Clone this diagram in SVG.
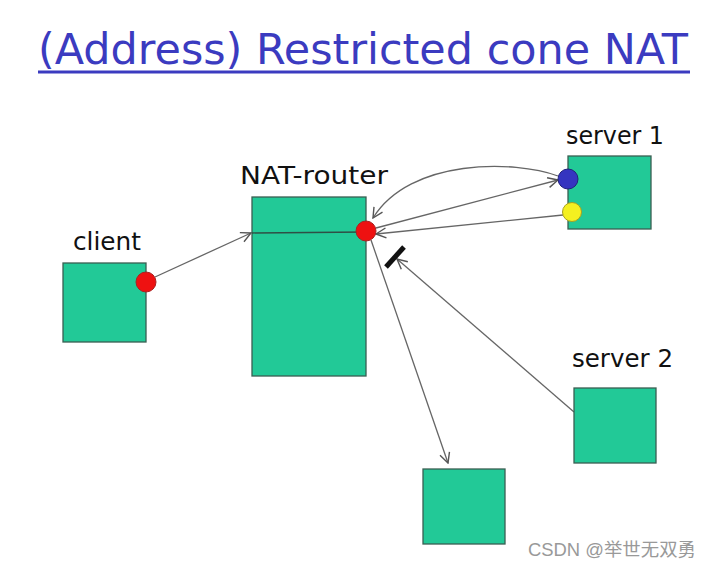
<svg xmlns="http://www.w3.org/2000/svg" width="713" height="567" viewBox="0 0 713 567">
<defs>
<style>
.box{fill:#22c997;stroke:#3a5f52;stroke-width:1.3}
.lbl{font-family:"DejaVu Sans","Liberation Sans",sans-serif;font-size:25px;fill:#111}
.con{fill:none;stroke:#666;stroke-width:1.3}
</style>
<marker id="ah" viewBox="0 0 12 12" refX="11" refY="6" markerWidth="12" markerHeight="12" markerUnits="userSpaceOnUse" orient="auto">
<path d="M1,1 L11,6 L1,11" fill="none" stroke="#555" stroke-width="1.4"/>
</marker>
</defs>
<rect width="713" height="567" fill="#fff"/>
<g id="title">
<text x="38" y="64" font-family="DejaVu Sans, Liberation Sans, sans-serif" font-size="42" fill="#3b3bc0" textLength="650" lengthAdjust="spacingAndGlyphs">(Address) Restricted cone NAT</text>
<line x1="38" y1="72" x2="690" y2="72" stroke="#3b3bc0" stroke-width="3"/>
</g>
<g id="connectors">
<line class="con" x1="155" y1="277" x2="251" y2="233" marker-end="url(#ah)"/>
<line class="con" x1="376" y1="228" x2="558" y2="180" marker-end="url(#ah)"/>
<path class="con" d="M558,176 C515,160 410,158 373,218" marker-end="url(#ah)"/>
<line class="con" x1="563" y1="215" x2="376" y2="234" marker-end="url(#ah)"/>
<line class="con" x1="371" y1="240" x2="448" y2="463" marker-end="url(#ah)"/>
<line class="con" x1="574" y1="412" x2="397" y2="259" marker-end="url(#ah)"/>
<line x1="386" y1="267" x2="404" y2="247" stroke="#111" stroke-width="5"/>
</g>
<g id="client">
<rect class="box" x="63" y="263" width="83" height="79"/>
<text class="lbl" x="73" y="250" textLength="68" lengthAdjust="spacingAndGlyphs">client</text>
<circle cx="146" cy="282" r="10" fill="#ee1111" stroke="#aa2222" stroke-width="1"/>
</g>
<g id="nat-router">
<rect class="box" x="252" y="197" width="114" height="179"/>
<line x1="252" y1="233" x2="366" y2="232" stroke="#2f4f45" stroke-width="1.3"/>
<text class="lbl" x="240" y="184" textLength="148" lengthAdjust="spacingAndGlyphs">NAT-router</text>
<circle cx="366" cy="231" r="10" fill="#ee1111" stroke="#aa2222" stroke-width="1"/>
</g>
<g id="server1">
<rect class="box" x="568" y="156" width="83" height="73"/>
<text class="lbl" x="566" y="144" textLength="98" lengthAdjust="spacingAndGlyphs">server 1</text>
<circle cx="568" cy="179" r="10" fill="#3535c0" stroke="#22227a" stroke-width="1"/>
<circle cx="572" cy="212" r="9.5" fill="#f4f020" stroke="#a8a020" stroke-width="1"/>
</g>
<g id="server2">
<rect class="box" x="574" y="388" width="82" height="75"/>
<text class="lbl" x="572" y="367" textLength="101" lengthAdjust="spacingAndGlyphs">server 2</text>
</g>
<g id="host">
<rect class="box" x="423" y="469" width="82" height="75"/>
</g>
<text x="528" y="556" font-family="Liberation Sans, Noto Sans CJK SC, sans-serif" font-size="18" fill="#999" textLength="168" lengthAdjust="spacingAndGlyphs">CSDN @举世无双勇</text>
</svg>
